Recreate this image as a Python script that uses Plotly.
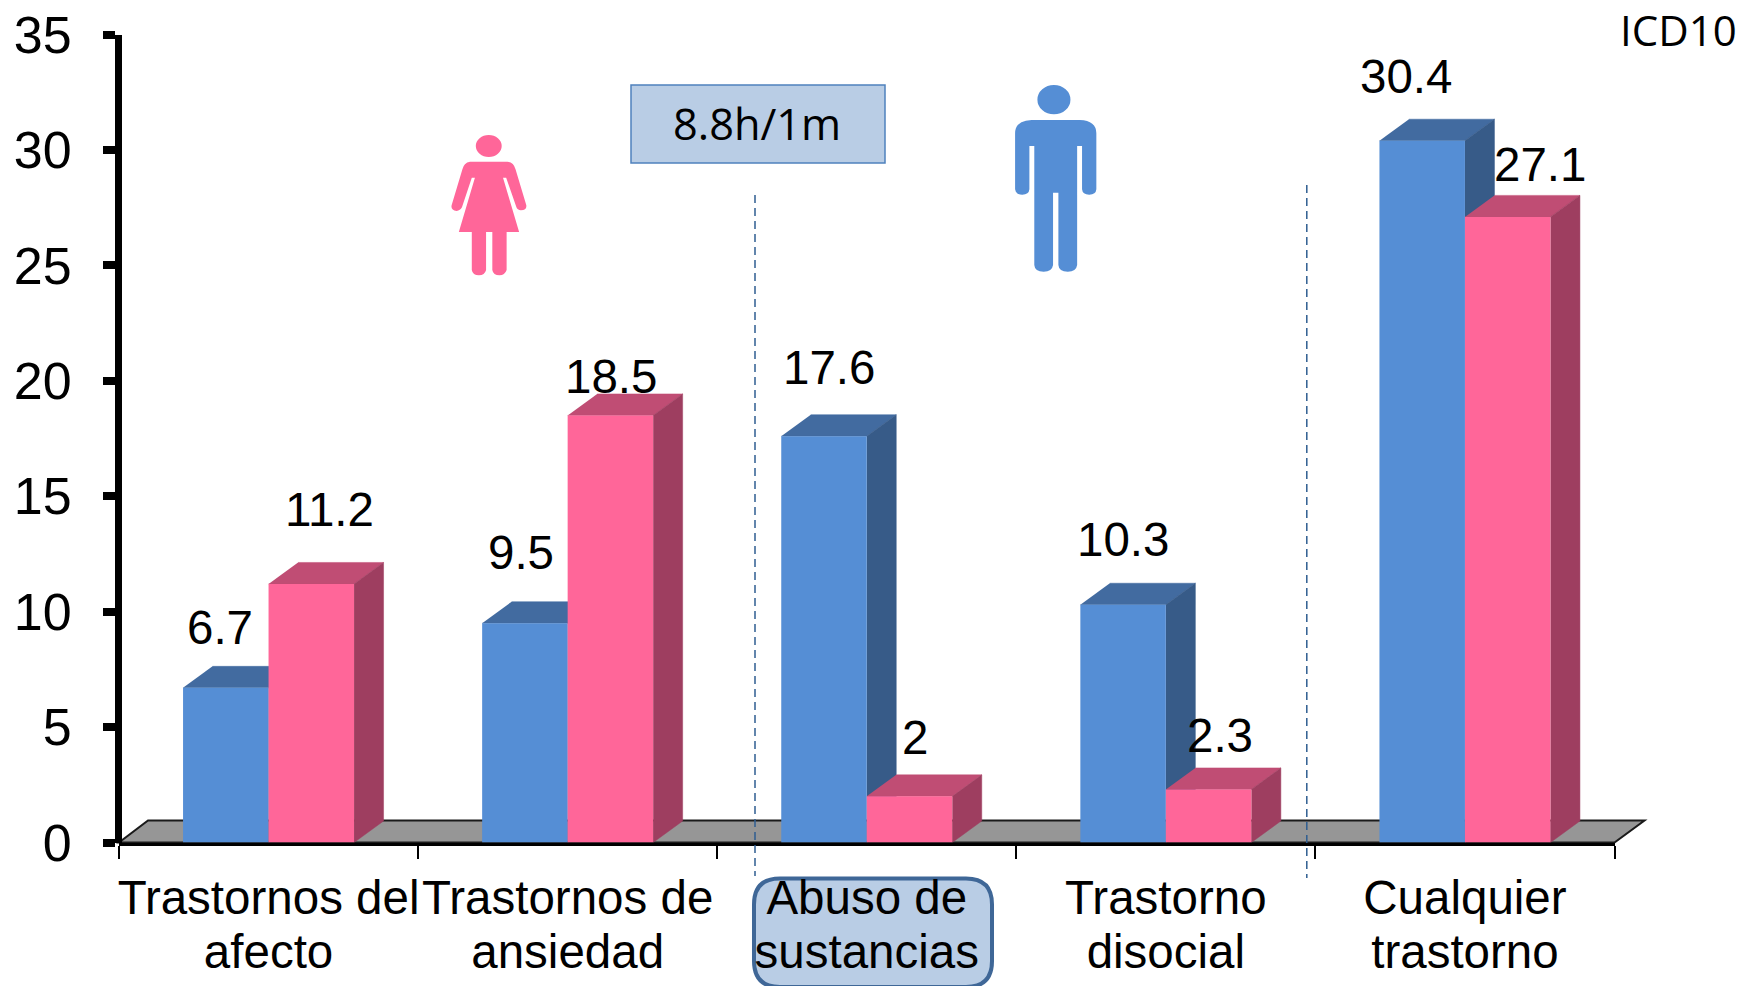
import re
import plotly.graph_objects as go

categories = ["Trastornos del<br>afecto", "Trastornos de<br>ansiedad", "Abuso de<br>sustancias",
              "Trastorno<br>disocial", "Cualquier<br>trastorno"]
hombres = [6.7, 9.5, 17.6, 10.3, 30.4]
mujeres = [11.2, 18.5, 2, 2.3, 27.1]
y_ticks = [0, 5, 10, 15, 20, 25, 30, 35]

W, H = 1741, 986
L, R, T, B = 119, 1614.5, 34.5, 842.5
STEP = (R - L) / 5
UNIT = (B - T) / 35
BAR_W = 85.5 / STEP
DX, DY = 29.5 / STEP, 21.5 / UNIT
BLUE, BLUE_TOP, BLUE_SIDE = "#558ed5", "#426ba0", "#375b88"
PINK, PINK_TOP, PINK_SIDE = "#ff6699", "#c04d74", "#9e3e60"
FONT = "Liberation Sans, Arial, sans-serif"
FONT2 = "Open Sans, sans-serif"
LABEL = 47.5

px = lambda v: v / W
py = lambda v: 1 - v / H

fig = go.Figure()


def poly(xs, ys, fill):
    fig.add_trace(go.Scatter(x=xs, y=ys, mode="lines", fill="toself", fillcolor=fill,
                             line=dict(color=fill, width=0.5),
                             hoverinfo="skip", showlegend=False, cliponaxis=False,
                             xaxis="x", yaxis="y"))


# 3-D faces, computed from the values
for i, (m, f) in enumerate(zip(hombres, mujeres)):
    poly([i - BAR_W, i, i + DX, i - BAR_W + DX], [m, m, m + DY, m + DY], BLUE_TOP)
    poly([i, i + DX, i + DX, i], [0, DY, m + DY, m], BLUE_SIDE)
    poly([i, i + BAR_W, i + BAR_W + DX, i + DX], [f, f, f + DY, f + DY], PINK_TOP)
    poly([i + BAR_W, i + BAR_W + DX, i + BAR_W + DX, i + BAR_W], [0, DY, f + DY, f], PINK_SIDE)

# front faces on the overlaying subplot so that they cover the faces behind them
xs = list(range(len(categories)))
fig.add_trace(go.Bar(x=xs, y=hombres, name="Hombres", marker=dict(color=BLUE, line_width=0),
                     xaxis="x2", yaxis="y2", showlegend=False))
fig.add_trace(go.Bar(x=xs, y=mujeres, name="Mujeres", marker=dict(color=PINK, line_width=0),
                     xaxis="x2", yaxis="y2", showlegend=False))

# value labels: pixel shift from the top-centre of each bar
m_shift = [(-6, 60.5), (-3.5, 70.5), (5, 68.5), (0, 65), (-16, 64.5)]
f_shift = [(18, 74.5), (0.5, 38.5), (5, 58.5), (11, 53.5), (32, 52.5)]
ann = []
for i in xs:
    for val, off, (sx, sy) in ((hombres[i], -BAR_W / 2, m_shift[i]), (mujeres[i], BAR_W / 2, f_shift[i])):
        ann.append(dict(x=i + off, y=val, xref="x2", yref="y2", text=str(val), showarrow=False,
                        xshift=sx, yshift=sy, font=dict(family=FONT, size=47.5, color="black"),
                        xanchor="center", yanchor="middle"))
ann.append(dict(x=px(1678), y=py(29), xref="paper", yref="paper", text="ICD10", showarrow=False,
                xanchor="center", yanchor="middle", font=dict(family=FONT2, size=42, color="black")))
ann.append(dict(x=px(757), y=py(124), xref="paper", yref="paper", text="8.8h/1m", showarrow=False,
                xanchor="center", yanchor="middle", font=dict(family=FONT2, size=43.3, color="black")))


def z2(x, y):
    """crop coordinates of the icon sketch -> paper"""
    return px(420 + x / 2.24), py(70 + y / 3)


def icon_path(d):
    def rep(match):
        a, b = z2(float(match.group(1)), float(match.group(2)))
        return f"{a:.5f},{b:.5f}"
    return re.sub(r"(-?[\d.]+),(-?[\d.]+)", rep, d)


woman = ("M112,275 L196,275 Q210,277 214,298 L238,405 Q240,420 226,421 Q218,420 216,412 L193,323 L186,323 "
         "L222,486 L194,486 L194,600 Q190,616 178,616 Q164,616 162,600 L162,486 L148,486 L148,600 "
         "Q145,616 132,616 Q118,616 116,600 L116,486 L87,486 L123,323 L116,323 L94,412 Q90,422 82,423 "
         "Q68,420 71,405 L95,298 Q98,278 112,275 Z")
man = ("M1370,150 L1478,150 Q1515,152 1515,190 L1515,358 Q1514,374 1499,374 Q1484,374 1483,358 L1483,228 "
       "L1472,228 L1472,585 Q1470,605 1451,605 Q1431,605 1430,585 L1430,368 L1418,368 L1418,585 "
       "Q1416,605 1397,605 Q1377,605 1376,585 L1376,228 L1365,228 L1365,358 Q1364,374 1349,374 "
       "Q1334,374 1333,358 L1333,190 Q1333,152 1370,150 Z")


def ellipse(cx, cy, rx, ry, color):
    x0, y0 = z2(cx - rx, cy - ry)
    x1, y1 = z2(cx + rx, cy + ry)
    return dict(type="circle", xref="paper", yref="paper", x0=x0, x1=x1, y0=y0, y1=y1,
                fillcolor=color, line_width=0)


def rrect(x0, y0, x1, y1, r):
    return (f"M{px(x0 + r):.5f},{py(y0):.5f} L{px(x1 - r):.5f},{py(y0):.5f} "
            f"Q{px(x1):.5f},{py(y0):.5f} {px(x1):.5f},{py(y0 + r):.5f} "
            f"L{px(x1):.5f},{py(y1 - r):.5f} Q{px(x1):.5f},{py(y1):.5f} {px(x1 - r):.5f},{py(y1):.5f} "
            f"L{px(x0 + r):.5f},{py(y1):.5f} Q{px(x0):.5f},{py(y1):.5f} {px(x0):.5f},{py(y1 - r):.5f} "
            f"L{px(x0):.5f},{py(y0 + r):.5f} Q{px(x0):.5f},{py(y0):.5f} {px(x0 + r):.5f},{py(y0):.5f} Z")


floor_path = (f"M{px(L):.5f},{py(B):.5f} L{px(R):.5f},{py(B):.5f} L{px(R + 30):.5f},{py(B - 22):.5f} "
              f"L{px(L + 29):.5f},{py(B - 22):.5f} Z")

DASH = dict(color="#2f5d91", width=1.5, dash="8px,5px")
shapes = [
    dict(type="path", xref="paper", yref="paper", path=floor_path, fillcolor="#969696",
         line=dict(color="#1a1a1a", width=2), layer="below"),
    dict(type="path", xref="paper", yref="paper", path=rrect(754, 878.5, 992, 987, 26),
         fillcolor="#b9cde5", line=dict(color="#3f6797", width=4), layer="below"),
    dict(type="rect", xref="paper", yref="paper", x0=px(631), x1=px(885), y0=py(85), y1=py(163),
         fillcolor="#b9cde5", line=dict(color="#4f81bd", width=1.5)),
    dict(type="line", xref="paper", yref="paper", x0=px(755), x1=px(755), y0=py(195), y1=py(876), line=DASH),
    dict(type="line", xref="paper", yref="paper", x0=px(1306.8), x1=px(1306.8), y0=py(185), y1=py(878), line=DASH),
    dict(type="path", xref="paper", yref="paper", path=icon_path(woman), fillcolor=PINK, line_width=0),
    ellipse(154, 228, 29, 33, PINK),
    dict(type="path", xref="paper", yref="paper", path=icon_path(man), fillcolor=BLUE, line_width=0),
    ellipse(1420, 89, 37, 44, BLUE),
]

dom_x = [L / W, R / W]
dom_y = [1 - B / H, 1 - T / H]
fig.update_layout(
    width=W, height=H, margin=dict(l=0, r=0, t=0, b=0, autoexpand=False), autosize=False,
    paper_bgcolor="white", plot_bgcolor="rgba(0,0,0,0)",
    barmode="group", bargap=1 - 2 * BAR_W, bargroupgap=0, showlegend=False,
    annotations=ann, shapes=shapes,
    xaxis=dict(domain=dom_x, range=[-0.5, 4.5], tickmode="array", tickvals=[i - 0.5 for i in range(6)],
               showticklabels=False, ticks="outside", ticklen=13, tickwidth=2, tickcolor="black",
               showline=True, linecolor="black", linewidth=3, showgrid=False, zeroline=False, anchor="y"),
    yaxis=dict(domain=dom_y, range=[0, 35], tickmode="array", tickvals=y_ticks,
               tickfont=dict(family=FONT, size=52, color="black"), ticks="outside", ticklen=12, tickwidth=8,
               tickcolor="black", ticklabelstandoff=21, showline=True, linecolor="black", linewidth=7,
               showgrid=False, zeroline=False, anchor="free", position=118 / W),
    xaxis2=dict(domain=dom_x, range=[-0.5, 4.5], overlaying="x", anchor="y2", side="bottom",
                tickmode="array", tickvals=xs,
                ticktext=[f'<span style="font-size:{LABEL}px">{c.replace("<br>", f"</span><br><span style=\"font-size:{LABEL}px\">")}</span>'
                          for c in categories],
                tickangle=0, tickfont=dict(family=FONT, size=41.5, color="black"), ticks="",
                ticklabelstandoff=29, showline=False, showgrid=False, zeroline=False),
    yaxis2=dict(domain=dom_y, range=[0, 35], overlaying="y", anchor="x2", showticklabels=False,
                ticks="", showline=False, showgrid=False, zeroline=False),
)

fig.write_html("out.html", config={"displayModeBar": False},
               post_script="document.body.style.margin='0';document.documentElement.style.overflow='hidden';")
